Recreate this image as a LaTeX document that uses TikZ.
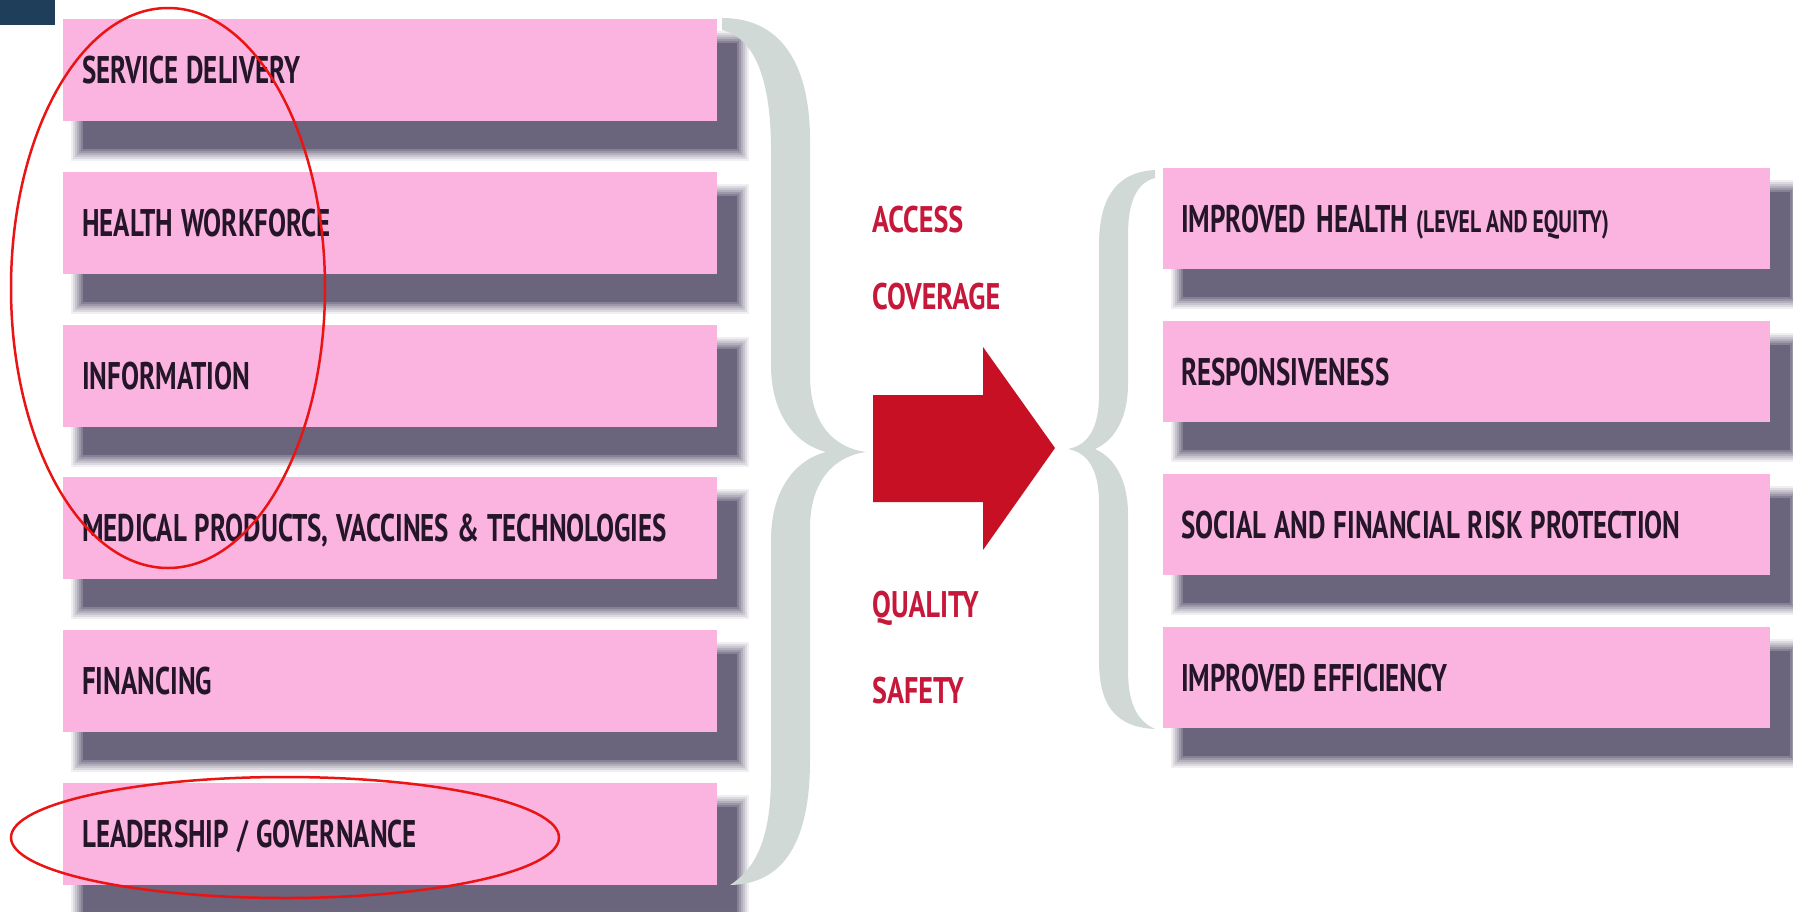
\documentclass[tikz,border=0pt]{standalone}
\usepackage{fontspec}
\setmainfont{PT Sans}
\newfontfamily\boxfont{PT Sans}[FakeStretch=0.70]
\newfontfamily\redfont{PT Sans}[FakeStretch=0.76]
\usetikzlibrary{backgrounds}
\pgfdeclarelayer{canvas}
\pgfsetlayers{canvas,background,main}
\definecolor{boxpink}{RGB}{251,180,223}
\definecolor{txtdark}{RGB}{36,22,40}
\definecolor{shadowc}{RGB}{56,48,82}
\definecolor{bracec}{RGB}{208,217,213}
\definecolor{arrowred}{RGB}{200,16,36}
\definecolor{labelred}{RGB}{198,24,58}
\definecolor{ovalred}{RGB}{235,20,20}
\definecolor{cornerblue}{RGB}{31,62,90}
\newcommand\tightsp{\spaceskip=8pt\relax}
\newcommand\smallsp{\spaceskip=5pt\relax}
\tikzset{
  boxtext/.style={font=\boxfont\bfseries\fontsize{38.5}{40}\selectfont, text=txtdark,
    execute at begin node=\tightsp},
  leftbox/.style={boxtext, fill=boxpink, draw=none, anchor=north west,
    minimum height=102pt, text width=616pt, inner xsep=19pt, inner ysep=0pt,
    align=left, text height=27pt, text depth=0pt},
  rightbox/.style={boxtext, fill=boxpink, draw=none, anchor=north west,
    minimum height=101pt, text width=571pt, inner xsep=18pt, inner ysep=0pt,
    align=left, text height=27pt, text depth=0pt},
  redlabel/.style={font=\redfont\bfseries\fontsize{37}{40}\selectfont, text=labelred,
    anchor=base west, inner sep=0pt},
  oval/.style={draw=ovalred, line width=2.5pt},
  bracefill/.style={fill=bracec, draw=none}
}
\newcommand\softshadow[1]{%
  \foreach \r/\o in {12/0.08,10/0.1,8/0.12,6/0.14,4/0.18,2/0.22,0/0.35} {
    \fill[shadowc, fill opacity=\o]
      ([xshift={(20-\r)*1pt}, yshift={(-24+\r)*1pt}]#1.north west) rectangle
      ([xshift={(20+\r)*1pt}, yshift={(-28-\r)*1pt}]#1.south east);
  }}
\begin{document}
\begin{tikzpicture}[x=1pt,y=-1pt]
\useasboundingbox (0,0) rectangle (1793,911);
\begin{pgfonlayer}{canvas}
  \fill[white] (0,0) rectangle (1793,911);
\end{pgfonlayer}
\fill[cornerblue] (0,0) rectangle (55,25);

% left column
\node[leftbox] (sd)   at (63,19)  {SERVICE DELIVERY};
\node[leftbox] (hw)   at (63,172) {HEALTH WORKFORCE};
\node[leftbox] (inf)  at (63,325) {INFORMATION};
\node[leftbox] (med)  at (63,477) {MEDICAL PRODUCTS, VACCINES \& TECHNOLOGIES};
\node[leftbox] (fin)  at (63,630) {FINANCING};
\node[leftbox] (lead) at (63,783) {LEADERSHIP / GOVERNANCE};

% right column
\node[rightbox] (ih)   at (1163,168) {IMPROVED\hspace{3pt} HEALTH {\fontsize{31}{32}\selectfont\smallsp(LEVEL AND EQUITY)}};
\node[rightbox] (resp) at (1163,321) {RESPONSIVENESS};
\node[rightbox] (sfrp) at (1163,474) {SOCIAL AND FINANCIAL RISK PROTECTION};
\node[rightbox] (ie)   at (1163,627) {IMPROVED EFFICIENCY};

\begin{pgfonlayer}{background}
  \foreach \n in {sd,hw,inf,med,fin,lead,ih,resp,sfrp,ie} {\softshadow{\n}}
\end{pgfonlayer}

% left brace
\path[bracefill] (722,18) .. controls (785,18) and (810,70) .. (810,140)
  -- (810,375) .. controls (810,425) and (835,448) .. (866,452)
  .. controls (835,456) and (810,480) .. (810,528)
  -- (810,760) .. controls (810,840) and (785,884) .. (730,885)
  .. controls (760,866) and (771,830) .. (771,775)
  -- (771,540) .. controls (771,490) and (795,460) .. (826,452)
  .. controls (795,444) and (771,414) .. (771,365)
  -- (771,150) .. controls (771,80) and (755,38) .. (722,30) -- cycle;

% right brace
\path[bracefill] (1155,170) .. controls (1115,172) and (1099,200) .. (1099,245)
  -- (1099,395) .. controls (1099,425) and (1090,445) .. (1068,449)
  .. controls (1090,453) and (1099,473) .. (1099,503)
  -- (1099,660) .. controls (1099,705) and (1115,727) .. (1155,729)
  .. controls (1135,720) and (1128,700) .. (1128,670)
  -- (1128,515) .. controls (1128,480) and (1115,458) .. (1095,449)
  .. controls (1115,440) and (1128,418) .. (1128,383)
  -- (1128,235) .. controls (1128,205) and (1135,183) .. (1155,178) -- cycle;

% centre labels
\node[redlabel] (acc)  at (872,232) {ACCESS};
\node[redlabel] (cov)  at (872,309) {COVERAGE};
\node[redlabel] (qual) at (872,617) {QUALITY};
\node[redlabel] (saf)  at (872,703) {SAFETY};

% arrow
\fill[arrowred] (873,395) -- (983,395) -- (983,347) -- (1055,448)
  -- (983,550) -- (983,502) -- (873,502) -- cycle;

% red ovals
\draw[oval] (168,288) ellipse [x radius=157pt, y radius=280pt];
\draw[oval] (285,837.5) ellipse [x radius=274pt, y radius=60.5pt];
\end{tikzpicture}
\end{document}
